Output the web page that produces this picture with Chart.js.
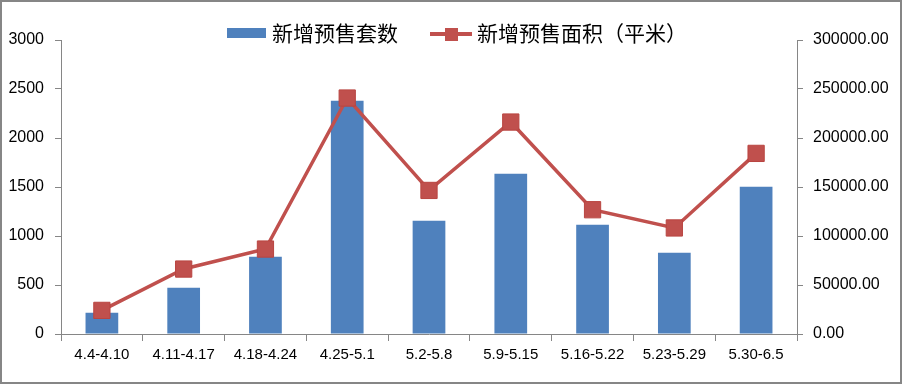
<!DOCTYPE html>
<html lang="zh">
<head>
    <meta charset="UTF-8">
    <title>新增预售套数 / 新增预售面积</title>
    <script src="https://cdn.jsdelivr.net/npm/chart.js"></script>
    <style>
        body {
            margin: 0;
            padding: 0;
            background: #fff;
        }
        canvas {
            display: block;
            background: #fff;
        }
    </style>
</head>
<body>
    <canvas id="combo" width="903" height="385"></canvas>

    <script>
        // 周次
        const weeks = ['4.4-4.10', '4.11-4.17', '4.18-4.24', '4.25-5.1', '5.2-5.8', '5.9-5.15', '5.16-5.22', '5.23-5.29', '5.30-6.5'];
        // 新增预售套数 (左轴)
        const unitCounts = [217, 472, 789, 2380, 1156, 1636, 1115, 830, 1503];
        // 新增预售面积 (右轴, 平米)
        const areaSqm = [24100, 66300, 86700, 240800, 146500, 216300, 126800, 108200, 184300];

        const seriesNames = ['新增预售套数', '新增预售面积（平米）'];
        const leftMax = 3000, leftStep = 500;
        const rightMax = 300000, rightStep = 50000;

        const axisGrey = '#868686';
        const barBlue = '#4F81BD';
        const lineRed = '#C0504D';

        // 图例 + 外框 (Excel 风格)
        const excelFrame = {
            id: 'excelFrame',
            afterDraw(chart) {
                const ctx = chart.ctx;
                ctx.save();
                // 外框
                ctx.strokeStyle = axisGrey;
                ctx.lineWidth = 2;
                ctx.strokeRect(1, 1, 900, 382);

                // 图例
                ctx.font = '21px "Noto Sans CJK SC", sans-serif';
                ctx.textBaseline = 'middle';

                ctx.fillStyle = barBlue;
                ctx.fillRect(227, 28, 39, 10);
                ctx.fillStyle = '#000';
                ctx.fillText(seriesNames[0], 272, 33);

                ctx.strokeStyle = lineRed;
                ctx.lineWidth = 4;
                ctx.beginPath();
                ctx.moveTo(430, 34);
                ctx.lineTo(472, 34);
                ctx.stroke();
                ctx.fillStyle = lineRed;
                ctx.fillRect(445, 28, 13, 13);
                ctx.fillStyle = '#000';
                ctx.fillText(seriesNames[1], 477, 33);
                ctx.restore();
            }
        };

        new Chart(document.getElementById('combo').getContext('2d'), {
            data: {
                labels: weeks,
                datasets: [{
                    type: 'line',
                    label: seriesNames[1],
                    data: areaSqm,
                    yAxisID: 'y1',
                    borderColor: lineRed,
                    borderWidth: 3.5,
                    backgroundColor: lineRed,
                    pointStyle: 'rect',
                    pointRadius: 11.5,
                    pointBackgroundColor: lineRed,
                    pointBorderColor: '#B94541',
                    pointBorderWidth: 1,
                    tension: 0,
                    order: 0
                }, {
                    type: 'bar',
                    label: seriesNames[0],
                    data: unitCounts,
                    yAxisID: 'y',
                    backgroundColor: barBlue,
                    barPercentage: 0.4,
                    categoryPercentage: 1.0,
                    order: 1
                }]
            },
            options: {
                responsive: false,
                devicePixelRatio: 1,
                animation: false,
                layout: { padding: { top: 40, left: 0, right: 0, bottom: 0 } },
                plugins: {
                    legend: { display: false },
                    tooltip: { enabled: false }
                },
                scales: {
                    x: {
                        offset: true,
                        grid: {
                            offset: true,
                            drawOnChartArea: false,
                            tickLength: 7,
                            color: axisGrey
                        },
                        border: { color: axisGrey },
                        ticks: {
                            color: '#000',
                            font: { family: '"Liberation Sans", sans-serif', size: 15 },
                            padding: 5,
                            maxRotation: 0,
                            autoSkip: false
                        },
                        afterFit(scale) { scale.height = 51; }
                    },
                    y: {
                        position: 'left',
                        min: 0,
                        max: leftMax,
                        grid: {
                            drawOnChartArea: false,
                            tickLength: 6,
                            color: axisGrey
                        },
                        border: { color: axisGrey },
                        ticks: {
                            stepSize: leftStep,
                            color: '#000',
                            font: { family: '"Liberation Sans", sans-serif', size: 16 },
                            padding: 11,
                            callback: v => String(v)
                        },
                        afterFit(scale) { scale.width = 61; }
                    },
                    y1: {
                        position: 'right',
                        min: 0,
                        max: rightMax,
                        grid: {
                            drawOnChartArea: false,
                            tickLength: 6,
                            color: axisGrey
                        },
                        border: { color: axisGrey },
                        ticks: {
                            stepSize: rightStep,
                            color: '#000',
                            font: { family: '"Liberation Sans", sans-serif', size: 16 },
                            padding: 10,
                            callback: v => v.toFixed(2)
                        },
                        afterFit(scale) { scale.width = 106; }
                    }
                }
            },
            plugins: [excelFrame]
        });
    </script>
</body>
</html>
